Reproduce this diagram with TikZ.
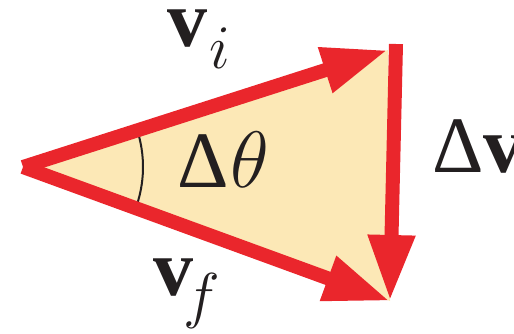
\RequirePackage{fix-cm}
\documentclass[tikz,border=0pt]{standalone}
\usepackage{fontspec}
\usepackage{xcolor}
\usepackage{tikz}
\usetikzlibrary{arrows.meta}
\newfontfamily\lblfont{Liberation Serif}
\definecolor{vrRed}{HTML}{EA262C}
\definecolor{vrFill}{HTML}{FCE8B6}
\definecolor{vrInk}{HTML}{231F20}
\newcommand{\subtxt}[1]{\raisebox{-10.5pt}{\fontsize{31}{33}\selectfont$#1$}}
\tikzset{
  % Thick red vector
  vec/.style={-{Triangle[length=33pt,width=22pt]},line width=7pt,
    color=vrRed,line cap=butt},
  % Angle mark
  angmark/.style={line width=1pt,color=vrInk},
  % Labels
  lbl/.style={font=\lblfont\fontsize{40}{44}\selectfont,text=vrInk,
    inner sep=0pt,anchor=base west},
}
\begin{document}
\begin{tikzpicture}[x=0.5pt,y=0.5pt]
  \useasboundingbox (0,0) rectangle (514,333);
  \clip (0,0) rectangle (514,333);

  % Corners of the triangle
  \coordinate (O) at (23,166);
  \coordinate (A) at (388,283);
  \coordinate (Atop) at (396,289);
  \coordinate (B) at (390,32);

  % Shaded triangle
  \fill[vrFill] (O) -- (A) -- (B) -- cycle;

  % Angle between the vectors
  \draw[angmark] (O) ++(-21:120) arc[start angle=-21,end angle=19,radius=120];

  % Vectors
  \draw[vec] (O) -- (A);
  \draw[vec] (O) -- (B);
  \draw[vec] (Atop) -- (B);

  % Labels
  \node[lbl] (vi) at (167,286) {\textbf{v}\kern1pt\subtxt{i}};
  \node[lbl] (vf) at (153,38) {\textbf{v}\kern-5pt\subtxt{f}};
  \node[lbl] (dth) at (177,146) {Δ\kern1pt$\theta$};
  \node[lbl] (dv) at (432,161) {Δ\textbf{v}};
\end{tikzpicture}
\end{document}
